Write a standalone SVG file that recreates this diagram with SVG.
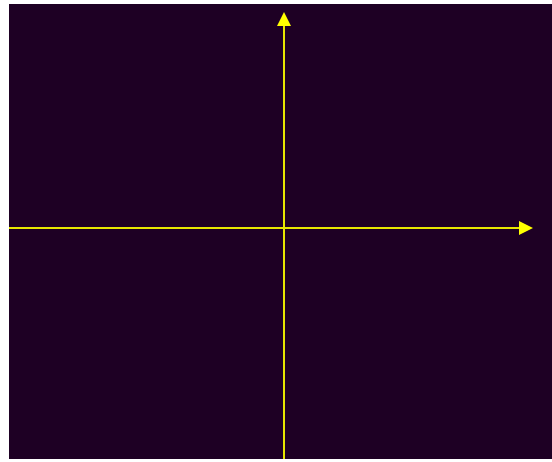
<svg xmlns="http://www.w3.org/2000/svg" width="552" height="462" viewBox="0 0 552 462">
<style>
.axis{stroke:#e6e600;stroke-width:2;fill:none}
.head{fill:#ffff00;stroke:none}
</style>
<rect x="0" y="0" width="552" height="462" fill="#ffffff"/>
<rect x="9" y="4" width="543" height="455" fill="#1e0024"/>
<g id="connectors">
<line class="axis" x1="9" y1="228" x2="522" y2="228"/>
<polygon class="head" points="533,228 519,221 519,235"/>
<line class="axis" x1="284" y1="459" x2="284" y2="24"/>
<polygon class="head" points="284,12 277,26 291,26"/>
</g>
</svg>
